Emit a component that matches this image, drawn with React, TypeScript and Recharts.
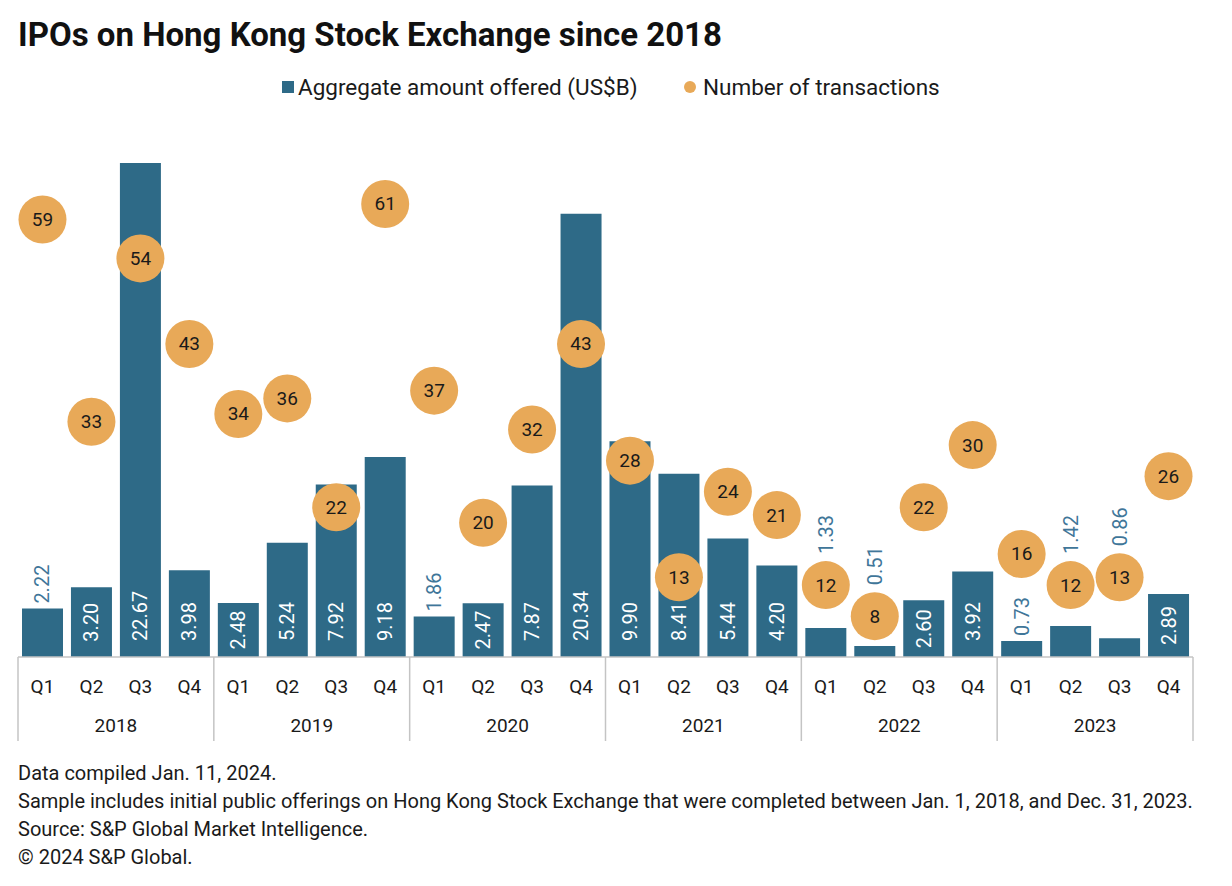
import React from "react";
import { ComposedChart, Bar, Scatter, XAxis, YAxis, LabelList } from "recharts";

// Quarterly IPO data, Hong Kong Stock Exchange
const years = ["2018", "2019", "2020", "2021", "2022", "2023"];
const quarters = ["Q1", "Q2", "Q3", "Q4"];
const amountOffered = [
  2.22, 3.2, 22.67, 3.98,
  2.48, 5.24, 7.92, 9.18,
  1.86, 2.47, 7.87, 20.34,
  9.9, 8.41, 5.44, 4.2,
  1.33, 0.51, 2.6, 3.92,
  0.73, 1.42, 0.86, 2.89,
];
const transactions = [
  59, 33, 54, 43,
  34, 36, 22, 61,
  37, 20, 32, 43,
  28, 13, 24, 21,
  12, 8, 22, 30,
  16, 12, 13, 26,
];
const footnotes = [
  "Data compiled Jan. 11, 2024.",
  "Sample includes initial public offerings on Hong Kong Stock Exchange that were completed between Jan. 1, 2018, and Dec. 31, 2023.",
  "Source: S&P Global Market Intelligence.",
  "\u00a9 2024 S&P Global.",
];

const data = years.flatMap((year, yi) =>
  quarters.map((q, qi) => ({
    key: `${year} ${q}`,
    amount: amountOffered[yi * 4 + qi],
    deals: transactions[yi * 4 + qi],
  }))
);

const FONT = "Roboto, 'Liberation Sans', sans-serif";
const BAR_COLOR = "#2e6a87";
const BUBBLE_COLOR = "#e8a958";
const LEFT_MAX = 24;
const RIGHT_MIN = 2.75;
const RIGHT_MAX = 70;
const BUBBLE_R = 24;
const LABEL_SIZE = 20;

const W = 1232;
const H = 886;
const margin = { top: 134, right: 39, bottom: 139, left: 18 };
const HALF_BAND = (W - margin.left - margin.right) / data.length / 2;

function labelLength(txt: string) {
  return (txt.length - 1) * 11.2 + 5.3;
}

// value label on each bar: inside at the base, centred when short, above when tiny
function AmountLabel(props: any) {
  const { x, y, width, height, value, index } = props;
  const cx = x + width / 2;
  const base = y + height;
  const txt = Number(value).toFixed(2);
  const len = labelLength(txt);
  let anchorY: number;
  let anchor = "start";
  let fill = "#ffffff";
  if (height < len + 14) {
    fill = "#3f7699";
    anchorY = y - 5;
    // keep clear of the bubble for this quarter
    const plotH = (height / value) * LEFT_MAX;
    const by = base - ((transactions[index] - RIGHT_MIN) / (RIGHT_MAX - RIGHT_MIN)) * plotH;
    const top = anchorY - len;
    if (top < by + BUBBLE_R && anchorY > by - BUBBLE_R) anchorY = by - BUBBLE_R - 7;
  } else if (height < len + 34) {
    anchorY = y + height / 2;
    anchor = "middle";
  } else {
    anchorY = base - 16;
  }
  return (
    <text
      x={cx}
      y={anchorY}
      transform={`rotate(-90 ${cx} ${anchorY})`}
      textAnchor={anchor}
      dominantBaseline="central"
      fill={fill}
      fontSize={LABEL_SIZE}
      fontFamily={FONT}
    >
      {txt}
    </text>
  );
}

function Bubble(props: any) {
  const { cx, cy, payload } = props;
  return (
    <g>
      <circle cx={cx} cy={cy} r={BUBBLE_R} fill={BUBBLE_COLOR} />
      <text
        x={cx}
        y={cy}
        textAnchor="middle"
        dominantBaseline="central"
        fontSize={19}
        fontFamily={FONT}
        fill="#1a1a1a"
      >
        {payload.deals}
      </text>
    </g>
  );
}

function QuarterTick(props: any) {
  const { x, y, payload, index } = props;
  const [year, q] = String(payload.value).split(" ");
  const half = payload.offset || HALF_BAND;
  const pos = index % 4;
  return (
    <g>
      <text x={x} y={y + 29} textAnchor="middle" dominantBaseline="central" fontSize={19} fontFamily={FONT} fill="#1a1a1a">
        {q}
      </text>
      {pos === 1 && (
        <text x={x + half} y={y + 68} textAnchor="middle" dominantBaseline="central" fontSize={19} fontFamily={FONT} fill="#1a1a1a">
          {year}
        </text>
      )}
      {pos === 0 && <line x1={x - half} x2={x - half} y1={y} y2={y + 84} stroke="#c4c4c4" strokeWidth={1.5} />}
      {index === data.length - 1 && (
        <line x1={x + half} x2={x + half} y1={y} y2={y + 84} stroke="#c4c4c4" strokeWidth={1.5} />
      )}
    </g>
  );
}

export default function App() {
  return (
    <div style={{ position: "absolute", left: 0, top: 0, width: W, height: H, background: "#fff" }}>
      <svg width={W} height={H} style={{ position: "absolute", left: 0, top: 0 }}>
        <text x={18} y={46} fontSize={33} fontWeight={700} fontFamily={FONT} fill="#111">
          IPOs on Hong Kong Stock Exchange since 2018
        </text>
        <rect x={282} y={81} width={12} height={12} fill={BAR_COLOR} />
        <text x={298} y={95} fontSize={22.5} fontFamily={FONT} fill="#1a1a1a">
          Aggregate amount offered (US$B)
        </text>
        <circle cx={690} cy={87} r={6} fill={BUBBLE_COLOR} />
        <text x={703} y={95} fontSize={22.5} fontFamily={FONT} fill="#1a1a1a">
          Number of transactions
        </text>
        {footnotes.map((line, i) => (
          <text key={i} x={18} y={780 + i * 28} fontSize={20} fontFamily={FONT} fill="#1a1a1a">
            {line}
          </text>
        ))}
      </svg>
      <ComposedChart
        width={W}
        height={H}
        data={data}
        margin={margin}
        style={{ position: "absolute", left: 0, top: 0 }}
      >
        <XAxis
          dataKey="key"
          interval={0}
          height={90}
          tickLine={false}
          tickSize={0}
          tickMargin={0}
          axisLine={{ stroke: "#c4c4c4", strokeWidth: 1.5 }}
          tick={<QuarterTick />}
        />
        <YAxis yAxisId="left" hide domain={[0, LEFT_MAX]} />
        <YAxis yAxisId="right" orientation="right" hide domain={[RIGHT_MIN, RIGHT_MAX]} />
        <Bar yAxisId="left" dataKey="amount" fill={BAR_COLOR} barSize={41} isAnimationActive={false}>
          <LabelList dataKey="amount" content={<AmountLabel />} />
        </Bar>
        <Scatter yAxisId="right" dataKey="deals" shape={<Bubble />} isAnimationActive={false} />
      </ComposedChart>
    </div>
  );
}
